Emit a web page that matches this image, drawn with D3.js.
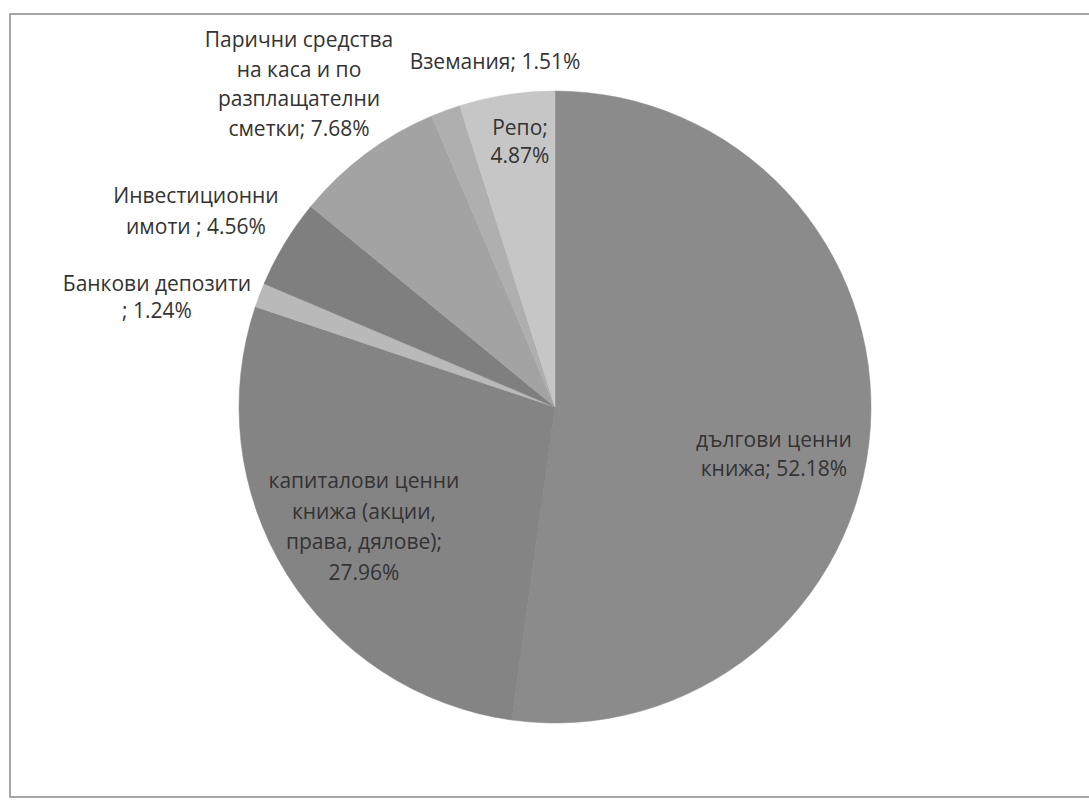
<!DOCTYPE html>
<html>
<head>
<meta charset="utf-8">
<script src="https://cdn.jsdelivr.net/npm/d3@7"></script>
<style>
  html, body { margin: 0; padding: 0; background: #fff; }
  svg { display: block; }
</style>
</head>
<body>
<svg id="chart" width="1089" height="800"></svg>
<script>
// ---- data ----
const categories = [
  "дългови ценни книжа",
  "капиталови ценни книжа (акции, права, дялове)",
  "Банкови депозити",
  "Инвестиционни имоти",
  "Парични средства на каса и по разплащателни сметки",
  "Вземания",
  "Репо"
];
const values = [52.18, 27.96, 1.24, 4.56, 7.68, 1.51, 4.87];
const labelLines = [
  ["дългови ценни", "книжа; 52.18%"],
  ["капиталови ценни", "книжа (акции,", "права, дялове);", "27.96%"],
  ["Банкови депозити", "; 1.24%"],
  ["Инвестиционни", "имоти ; 4.56%"],
  ["Парични средства", "на каса и по", "разплащателни", "сметки; 7.68%"],
  ["Вземания; 1.51%"],
  ["Репо;", "4.87%"]
];
const sliceColors = ["#8b8b8b", "#848484", "#b9b9b9", "#7f7f7f", "#a3a3a3", "#afafaf", "#c6c6c6"];

// ---- layout ----
const W = 1089, H = 800;
const cx = 555, cy = 407, R = 316;
// label anchor (centre x, first-line centre y) and line spacing
const labelPos = [
  [774, 440, 29],
  [364, 481, 30.5],
  [157, 284, 27],
  [196, 196, 31],
  [299, 40, 29.5],
  [495, 62, 29],
  [520, 128, 28]
];

const svg = d3.select("#chart");
svg.append("rect").attr("width", W).attr("height", H).attr("fill", "#fff");
svg.append("rect")
  .attr("x", 10).attr("y", 14).attr("width", W + 10).attr("height", 783)
  .attr("fill", "none").attr("stroke", "#8a8a8a").attr("stroke-width", 1.5);

const data = categories.map((c, i) => ({ name: c, value: values[i], i }));
const pie = d3.pie().value(d => d.value).sort(null).startAngle(0).endAngle(2 * Math.PI);
const arc = d3.arc().innerRadius(0).outerRadius(R);

const g = svg.append("g").attr("transform", `translate(${cx},${cy})`);
g.selectAll("path.slice")
  .data(pie(data))
  .join("path")
  .attr("class", "slice")
  .attr("d", arc)
  .attr("fill", d => sliceColors[d.data.i])
  .attr("stroke", d => sliceColors[d.data.i])
  .attr("stroke-width", 0.5);

const labels = svg.append("g")
  .attr("font-family", "'Open Sans', sans-serif")
  .attr("font-size", 21)
  .attr("fill", "#333")
  .attr("text-anchor", "middle");

data.forEach((d, i) => {
  const [x, y, lh] = labelPos[i];
  const t = labels.append("text");
  labelLines[i].forEach((line, k) => {
    t.append("tspan")
      .attr("x", x)
      .attr("y", y + k * lh)
      .attr("dy", "0.35em")
      .text(line);
  });
});
</script>
</body>
</html>
